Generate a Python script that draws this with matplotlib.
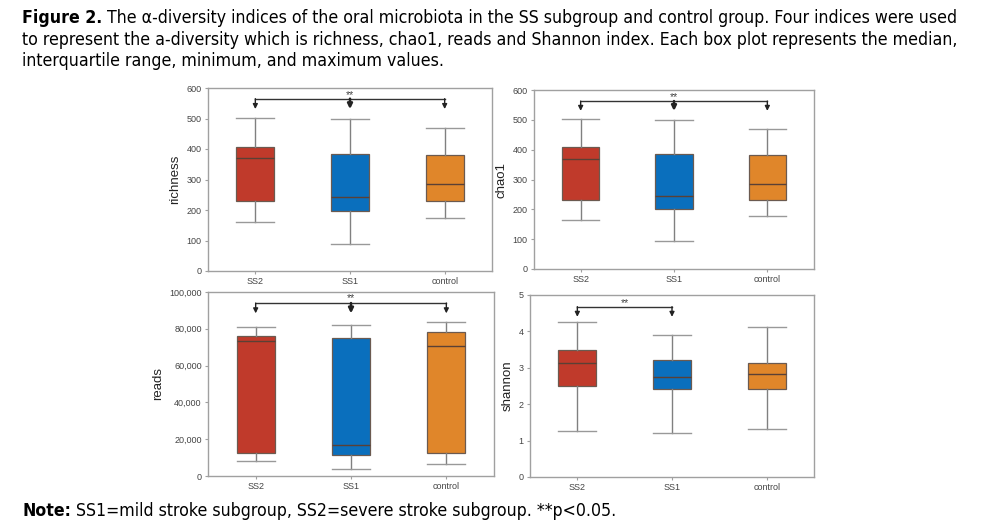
import matplotlib
matplotlib.use("Agg")
import matplotlib.pyplot as plt
from matplotlib.ticker import FuncFormatter

plt.rcParams['font.family'] = ['Liberation Sans', 'DejaVu Sans']

groups = ["SS2", "SS1", "control"]
colors = ["#c03a2b", "#0a6fbd", "#e0862a"]

# stats: [low whisker, Q1, median, Q3, high whisker]
richness = [[161, 228, 369, 408, 502],
            [90, 196, 243, 385, 499],
            [175, 228, 285, 380, 470]]
chao1 = [[164, 230, 370, 409, 502],
         [94, 200, 246, 386, 498],
         [176, 231, 286, 381, 469]]
reads = [[8300, 12300, 73300, 76200, 81000],
         [3800, 11200, 17000, 75200, 82000],
         [6700, 12300, 70800, 78000, 83900]]
shannon = [[1.26, 2.50, 3.14, 3.50, 4.26],
           [1.22, 2.42, 2.74, 3.21, 3.89],
           [1.31, 2.41, 2.82, 3.14, 4.13]]

panels = [
    dict(data=richness, label="richness", ylim=(0, 600), ticks=[0, 100, 200, 300, 400, 500, 600],
         sig=dict(pair=(0, 2), mid=True, line=565, tip=531, star=578),
         rect=[208/981, 1-271/530, 284/981, 183/530], comma=False),
    dict(data=chao1, label="chao1", ylim=(0, 600), ticks=[0, 100, 200, 300, 400, 500, 600],
         sig=dict(pair=(0, 2), mid=True, line=563, tip=530, star=576),
         rect=[534/981, 1-269/530, 280/981, 179/530], comma=False),
    dict(data=reads, label="reads", ylim=(0, 100000), ticks=[0, 20000, 40000, 60000, 80000, 100000],
         sig=dict(pair=(0, 2), mid=True, line=94000, tip=88400, star=96500),
         rect=[208/981, 1-476/530, 286/981, 184/530], comma=True),
    dict(data=shannon, label="shannon", ylim=(0, 5), ticks=[0, 1, 2, 3, 4, 5],
         sig=dict(pair=(0, 1), mid=False, line=4.68, tip=4.40, star=4.79),
         rect=[530/981, 1-477/530, 284/981, 182/530], comma=False),
]

fig = plt.figure(figsize=(9.81, 5.30), dpi=100)

spine_col = "#a0a0a0"
for p in panels:
    ax = fig.add_axes(p["rect"])
    stats = []
    for g, d in zip(groups, p["data"]):
        stats.append(dict(label=g, whislo=d[0], q1=d[1], med=d[2], q3=d[3], whishi=d[4], fliers=[]))
    bp = ax.bxp(stats, positions=range(len(groups)), widths=0.4, patch_artist=True,
                showfliers=False,
                boxprops=dict(linewidth=0.9, edgecolor="#6b5a50"),
                medianprops=dict(color="#5a4035", linewidth=1.0),
                whiskerprops=dict(color="#808080", linewidth=1.0),
                capprops=dict(color="#999999", linewidth=1.0),
                capwidths=0.4)
    for patch, c in zip(bp["boxes"], colors):
        patch.set_facecolor(c)
    ax.set_xlim(-0.5, 2.5)
    ax.set_ylim(*p["ylim"])
    ax.set_yticks(p["ticks"])
    if p["comma"]:
        ax.yaxis.set_major_formatter(FuncFormatter(lambda v, pos: f"{int(v):,}"))
    ax.set_xticks(range(len(groups)))
    ax.set_xticklabels(groups)
    ax.tick_params(axis="both", labelsize=6.5, labelcolor="#444444", color="#a0a0a0",
                   length=2.5, width=0.8, pad=2)
    ax.set_ylabel(p["label"], fontsize=9.5, color="#222222", labelpad=4)
    for s in ax.spines.values():
        s.set_color(spine_col)
        s.set_linewidth(1.0)
    # significance bracket
    sg = p["sig"]
    a, b = sg["pair"]
    ax.plot([a, b], [sg["line"], sg["line"]], color="#333333", lw=1.0)
    xs = [a, b] + ([1] if sg["mid"] else [])
    for x in xs:
        lw = 1.8 if (sg["mid"] and x == 1) else 1.0
        ax.annotate("", xy=(x, sg["tip"]), xytext=(x, sg["line"]),
                    arrowprops=dict(arrowstyle="-|>,head_length=0.28,head_width=0.14",
                                    color="#222222", lw=lw, shrinkA=0, shrinkB=0))
    ax.text((a + b) / 2, sg["star"], "**", ha="center", va="center", fontsize=7.5, color="#444444")

# caption
cap = dict(family="DejaVu Sans", fontstretch="condensed", fontsize=12.7)
y1 = 1 - 18/530
t = fig.text(22/981, y1, "Figure 2.", fontweight="bold", va="center", ha="left", **cap)
plt.annotate(" The \u03b1-diversity indices of the oral microbiota in the SS subgroup and control group. Four indices were used",
             xy=(1, 0.5), xycoords=t, va="center", ha="left", annotation_clip=False, **cap)
fig.text(22/981, 1 - 40/530,
         "to represent the a-diversity which is richness, chao1, reads and Shannon index. Each box plot represents the median,",
         va="center", ha="left", **cap)
fig.text(22/981, 1 - 61/530, "interquartile range, minimum, and maximum values.",
         va="center", ha="left", **cap)

tn = fig.text(22/981, 1 - 511/530, "Note:", fontweight="bold", va="center", ha="left", **cap)
plt.annotate(" SS1=mild stroke subgroup, SS2=severe stroke subgroup. **p<0.05.",
             xy=(1, 0.5), xycoords=tn, va="center", ha="left", annotation_clip=False, **cap)

fig.savefig("out.png", dpi=100)
